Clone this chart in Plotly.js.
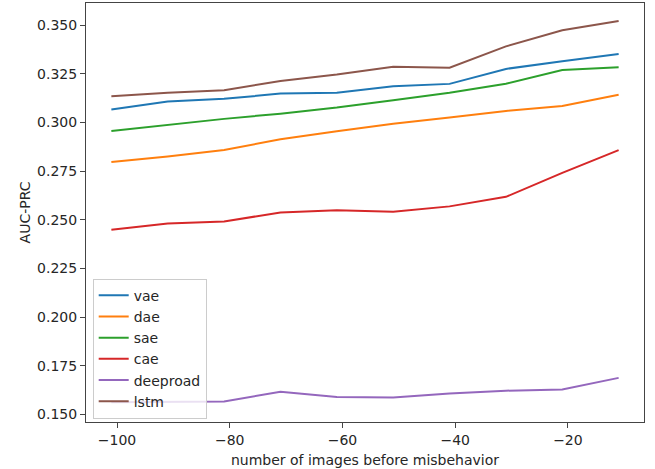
<!DOCTYPE html>
<html>
<head>
<meta charset="utf-8">
<script src="https://cdn.plot.ly/plotly-3.0.1.min.js"></script>
<style>
  html, body { margin: 0; padding: 0; background: #ffffff; }
  #chart { width: 655px; height: 469px; }
</style>
</head>
<body>
<div id="chart"></div>
<script>
const xValues = [-101, -91, -81, -71, -61, -51, -41, -31, -21, -11];
const vae      = [0.3067, 0.3108, 0.3122, 0.3149, 0.3153, 0.3187, 0.3199, 0.3276, 0.3316, 0.3353];
const dae      = [0.2797, 0.2826, 0.2859, 0.2914, 0.2955, 0.2994, 0.3026, 0.3060, 0.3085, 0.3143];
const sae      = [0.2957, 0.2988, 0.3019, 0.3046, 0.3077, 0.3115, 0.3153, 0.3200, 0.3270, 0.3284];
const cae      = [0.2449, 0.2481, 0.2491, 0.2538, 0.2549, 0.2542, 0.2569, 0.2618, 0.2741, 0.2858];
const deeproad = [0.1562, 0.1563, 0.1566, 0.1615, 0.1589, 0.1586, 0.1606, 0.1621, 0.1627, 0.1687];
const lstm     = [0.3136, 0.3153, 0.3166, 0.3214, 0.3247, 0.3287, 0.3282, 0.3392, 0.3475, 0.3522];

const seriesNames = ['vae', 'dae', 'sae', 'cae', 'deeproad', 'lstm'];
const seriesData = [vae, dae, sae, cae, deeproad, lstm];
const colors = ['#1f77b4', '#ff7f0e', '#2ca02c', '#d62728', '#9467bd', '#8c564b'];

const xTickVals = [-100, -80, -60, -40, -20];
const xTickText = ['\u2212100', '\u221280', '\u221260', '\u221240', '\u221220'];
const yTickVals = [0.150, 0.175, 0.200, 0.225, 0.250, 0.275, 0.300, 0.325, 0.350];

const traces = seriesNames.map((name, i) => ({
  x: xValues,
  y: seriesData[i],
  name: name,
  type: 'scatter',
  mode: 'lines',
  line: { color: colors[i], width: 2 }
}));

const font = { family: 'DejaVu Sans, sans-serif', size: 14, color: '#262626' };

const layout = {
  width: 655,
  height: 469,
  margin: { l: 86, r: 11, t: 3, b: 47, pad: 0 },
  paper_bgcolor: '#ffffff',
  plot_bgcolor: '#ffffff',
  font: font,
  showlegend: true,
  xaxis: {
    range: [-105.5, -6.5],
    tickmode: 'array',
    tickvals: xTickVals,
    ticktext: xTickText,
    ticks: 'outside',
    ticklen: 5,
    tickwidth: 1,
    tickcolor: '#444',
    showline: true,
    linecolor: '#444',
    linewidth: 1,
    mirror: true,
    showgrid: false,
    zeroline: false,
    tickfont: { size: 14, color: '#262626' },
    title: { text: 'number of images before misbehavior', font: { size: 14, color: '#262626' }, standoff: 8 }
  },
  yaxis: {
    range: [0.146, 0.3615],
    tickmode: 'array',
    tickvals: yTickVals,
    tickformat: '.3f',
    ticks: 'outside',
    ticklen: 5,
    tickwidth: 1,
    tickcolor: '#444',
    showline: true,
    linecolor: '#444',
    linewidth: 1,
    mirror: true,
    showgrid: false,
    zeroline: false,
    tickfont: { size: 14, color: '#262626' },
    title: { text: 'AUC-PRC', font: { size: 14, color: '#262626' }, standoff: 3 }
  },
  legend: {
    x: 0.012,
    y: 0.008,
    xanchor: 'left',
    yanchor: 'bottom',
    bgcolor: 'rgba(255,255,255,0.8)',
    bordercolor: '#cccccc',
    borderwidth: 1,
    itemwidth: 30,
    font: { size: 14, color: '#262626' },
    tracegroupgap: 0
  }
};

Plotly.newPlot('chart', traces, layout, { staticPlot: true, displayModeBar: false });
</script>
</body>
</html>
